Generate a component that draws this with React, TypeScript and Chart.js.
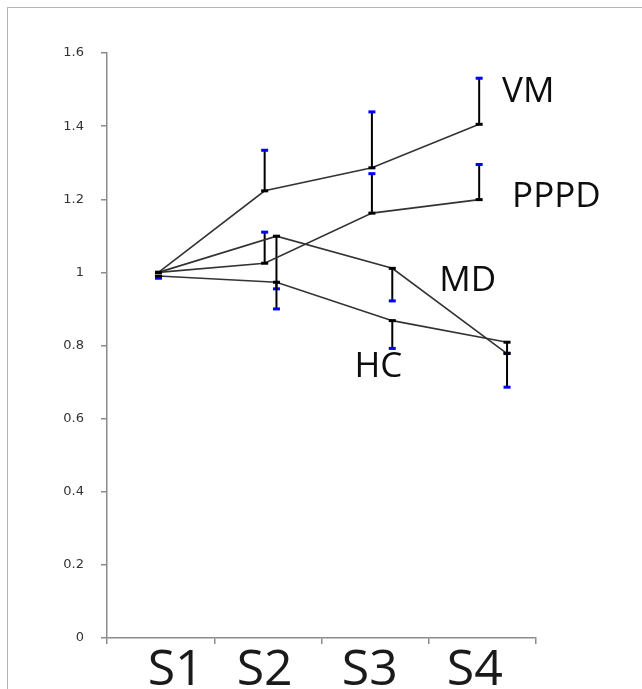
import React, { useEffect, useRef } from "react";
import { Chart, registerables } from "chart.js";

Chart.register(...registerables);

// ---- data ----
const categories = ["S1", "S2", "S3", "S4"];
const seriesNames = ["VM", "PPPD", "MD", "HC"];
// x positions (in category units)
const xLeftGroup = [0.48, 1.47, 2.47, 3.47]; // VM, PPPD
const xRightGroup = [0.48, 1.58, 2.66, 3.73]; // MD, HC
const vmValues = [1.0, 1.223, 1.286, 1.405];
const vmErrUp = [0, 0.111, 0.153, 0.126];
const pppdValues = [1.0, 1.025, 1.162, 1.199];
const pppdErrUp = [0, 0.085, 0.108, 0.096];
const mdValues = [1.0, 1.099, 1.011, 0.778];
const mdErrDown = [0, 0.144, 0.089, 0.092];
const hcValues = [0.99, 0.973, 0.868, 0.809];
const hcErrDown = [0.006, 0.073, 0.076, 0.03];
const yTicks = [0, 0.2, 0.4, 0.6, 0.8, 1, 1.2, 1.4, 1.6];
const categoryTickAt = [0, 1, 2, 3, 4];
const categoryLabelAt = [0.64, 1.47, 2.45, 3.43];
const seriesLabelAt = [
  { x: 3.684, y: 1.466 },
  { x: 3.777, y: 1.178 },
  { x: 3.098, y: 0.948 },
  { x: 2.307, y: 0.715 },
];

const AXIS = "#8c8c8c";

const errorBarPlugin = {
  id: "errorBars",
  beforeDatasetsDraw(chart: any) {
    const ctx = chart.ctx;
    const ys = chart.scales.y;
    ctx.save();
    chart.data.datasets.forEach((ds: any, di: number) => {
      const meta = chart.getDatasetMeta(di);
      meta.data.forEach((pt: any, i: number) => {
        const v = ds.data[i].y;
        let end: number | null = null;
        if (ds.errUp && ds.errUp[i] > 0) end = v + ds.errUp[i];
        if (ds.errDown && ds.errDown[i] > 0) end = v - ds.errDown[i];
        if (end === null) return;
        const y0 = ys.getPixelForValue(v);
        const y1 = ys.getPixelForValue(end);
        ctx.strokeStyle = "#000";
        ctx.lineWidth = 2;
        ctx.beginPath();
        ctx.moveTo(pt.x, y0);
        ctx.lineTo(pt.x, y1);
        ctx.stroke();
        ctx.strokeStyle = "#0000ff";
        ctx.lineWidth = 3;
        ctx.beginPath();
        ctx.moveTo(pt.x - 3.5, y1);
        ctx.lineTo(pt.x + 3.5, y1);
        ctx.stroke();
      });
    });
    ctx.restore();
  },
};

const seriesLabelPlugin = {
  id: "seriesLabels",
  afterDatasetsDraw(chart: any) {
    const ctx = chart.ctx;
    const xs = chart.scales.x;
    const ys = chart.scales.y;
    ctx.save();
    ctx.font = "35px 'Open Sans'";
    ctx.fillStyle = "#0d0d0d";
    ctx.textAlign = "left";
    ctx.textBaseline = "alphabetic";
    seriesNames.forEach((name, i) => {
      const p = seriesLabelAt[i];
      ctx.fillText(name, xs.getPixelForValue(p.x), ys.getPixelForValue(p.y));
    });
    ctx.restore();
  },
};

function makeSeries(label: string, xs: number[], ys: number[], extra: any) {
  return {
    label,
    data: xs.map((x, i) => ({ x, y: ys[i] })),
    xAxisID: "x",
    yAxisID: "y",
    borderColor: "#333333",
    borderWidth: 1.6,
    pointStyle: "line",
    pointRadius: 3.5,
    pointBorderWidth: 3,
    pointBorderColor: "#000",
    pointBackgroundColor: "#000",
    tension: 0,
    fill: false,
    ...extra,
  };
}

export default function App() {
  const ref = useRef<HTMLCanvasElement | null>(null);
  useEffect(() => {
    if (!ref.current) return;
    const chart = new Chart(ref.current, {
      type: "line",
      data: {
        datasets: [
          makeSeries("VM", xLeftGroup, vmValues, { errUp: vmErrUp }),
          makeSeries("PPPD", xLeftGroup, pppdValues, { errUp: pppdErrUp }),
          makeSeries("MD", xRightGroup, mdValues, { errDown: mdErrDown }),
          makeSeries("HC", xRightGroup, hcValues, { errDown: hcErrDown }),
        ] as any,
      },
      options: {
        responsive: false,
        animation: false,
        events: [],
        layout: { padding: { top: 45, right: 106, left: 0, bottom: 0 } },
        plugins: { legend: { display: false }, tooltip: { enabled: false } },
        scales: {
          x: {
            type: "linear",
            position: "bottom",
            min: 0,
            max: 4,
            afterBuildTicks: (s: any) => {
              s.ticks = categoryTickAt.map((v) => ({ value: v }));
            },
            ticks: { display: false },
            grid: { drawOnChartArea: false, tickLength: 6, color: AXIS, lineWidth: 1.5 },
            border: { color: AXIS, width: 1.5 },
            afterFit: (s: any) => {
              s.height = 6;
            },
          },
          xl: {
            type: "linear",
            position: "bottom",
            min: 0,
            max: 4,
            afterBuildTicks: (s: any) => {
              s.ticks = categoryLabelAt.map((v) => ({ value: v }));
            },
            ticks: {
              autoSkip: false,
              maxRotation: 0,
              padding: -11,
              color: "#1a1a1a",
              font: { family: "'Open Sans'", size: 50 },
              callback: (_v: any, i: number) => categories[i],
            },
            grid: { display: false },
            border: { display: false },
            afterFit: (s: any) => {
              s.height = 45;
            },
          },
          y: {
            type: "linear",
            min: 0,
            max: 1.6,
            afterBuildTicks: (s: any) => {
              s.ticks = yTicks.map((v) => ({ value: v }));
            },
            ticks: {
              padding: 17,
              color: "#333333",
              font: { family: "'DejaVu Sans'", size: 13 },
              callback: (v: any) => String(v),
            },
            grid: { drawOnChartArea: false, tickLength: 6, color: AXIS, lineWidth: 1.5 },
            border: { color: AXIS, width: 1.5 },
            afterFit: (s: any) => {
              s.width = 99;
            },
          },
        },
      } as any,
      plugins: [errorBarPlugin, seriesLabelPlugin],
    });
    return () => chart.destroy();
  }, []);

  return (
    <div>
      <div
        style={{
          position: "absolute",
          left: 7,
          top: 7,
          width: 635,
          height: 682,
          borderTop: "1px solid #b4b4b4",
          borderLeft: "1px solid #b4b4b4",
          boxSizing: "border-box",
        }}
      />
      <canvas
        ref={ref}
        width={634}
        height={681}
        style={{ position: "absolute", left: 8, top: 8, width: 634, height: 681 }}
      />
    </div>
  );
}
